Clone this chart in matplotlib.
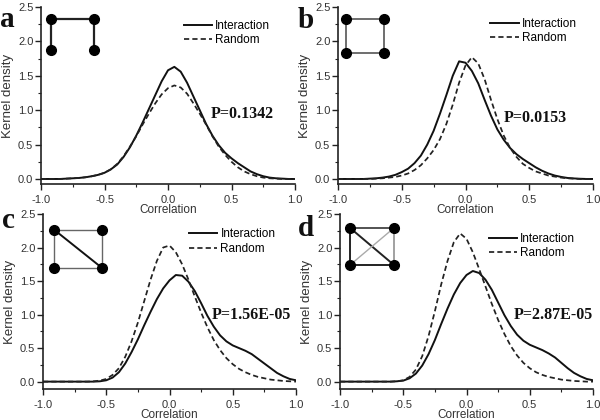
import numpy as np
import matplotlib
matplotlib.use('Agg')
import matplotlib.pyplot as plt
from matplotlib.ticker import MultipleLocator

plt.rcParams['font.family'] = ['Liberation Sans', 'DejaVu Sans']

# correlation grid (step 0.05, -1 .. 1)
corr = np.round(np.arange(-1.0, 1.0001, 0.05), 2)

inter_a = [0, 0, 0, 0, 0.005, 0.01, 0.015, 0.025, 0.04, 0.06, 0.09, 0.14, 0.21, 0.32, 0.46, 0.63, 0.82,
           1.02, 1.22, 1.42, 1.58, 1.63, 1.56, 1.40, 1.20, 1.00, 0.80, 0.63, 0.49, 0.38, 0.30, 0.23,
           0.17, 0.11, 0.07, 0.04, 0.02, 0.01, 0.005, 0, 0]
rand_a = [0, 0, 0, 0, 0.005, 0.01, 0.015, 0.025, 0.04, 0.06, 0.09, 0.14, 0.22, 0.33, 0.47, 0.62, 0.79,
          0.95, 1.10, 1.23, 1.32, 1.36, 1.33, 1.24, 1.10, 0.95, 0.79, 0.62, 0.47, 0.35, 0.25, 0.17,
          0.11, 0.07, 0.04, 0.02, 0.01, 0.005, 0, 0, 0]

inter_b = [0, 0, 0, 0, 0, 0.005, 0.01, 0.02, 0.035, 0.06, 0.10, 0.15, 0.23, 0.34, 0.50, 0.70, 0.95,
           1.22, 1.50, 1.71, 1.69, 1.57, 1.39, 1.15, 0.92, 0.72, 0.57, 0.45, 0.36, 0.29, 0.23, 0.17,
           0.12, 0.08, 0.05, 0.03, 0.015, 0.008, 0.003, 0, 0]
rand_b = [0, 0, 0, 0, 0, 0, 0.005, 0.01, 0.02, 0.03, 0.05, 0.08, 0.13, 0.20, 0.30, 0.42, 0.58,
          0.80, 1.08, 1.40, 1.65, 1.77, 1.68, 1.45, 1.15, 0.87, 0.63, 0.45, 0.32, 0.22, 0.16, 0.11,
          0.08, 0.05, 0.035, 0.02, 0.01, 0.005, 0, 0, 0]

inter_c = [0, 0, 0, 0, 0, 0, 0, 0, 0, 0.005, 0.02, 0.06, 0.14, 0.27, 0.44, 0.63, 0.84,
           1.04, 1.23, 1.39, 1.51, 1.59, 1.58, 1.49, 1.35, 1.17, 0.98, 0.82, 0.69, 0.60, 0.54, 0.50,
           0.46, 0.41, 0.34, 0.27, 0.20, 0.13, 0.08, 0.04, 0.02]
rand_c = [0, 0, 0, 0, 0, 0, 0, 0, 0.005, 0.015, 0.04, 0.10, 0.20, 0.37, 0.60, 0.88, 1.20,
          1.52, 1.80, 2.00, 2.03, 1.93, 1.75, 1.52, 1.27, 1.03, 0.81, 0.62, 0.47, 0.35, 0.26, 0.19,
          0.14, 0.10, 0.07, 0.05, 0.03, 0.02, 0.01, 0.005, 0]

inter_d = [0, 0, 0, 0, 0, 0, 0, 0, 0, 0.005, 0.015, 0.05, 0.12, 0.24, 0.41, 0.62, 0.86,
           1.09, 1.30, 1.47, 1.59, 1.65, 1.62, 1.52, 1.37, 1.18, 0.99, 0.83, 0.70, 0.61, 0.55, 0.51,
           0.47, 0.42, 0.36, 0.28, 0.20, 0.13, 0.08, 0.04, 0.02]
rand_d = [0, 0, 0, 0, 0, 0, 0, 0, 0, 0.005, 0.02, 0.07, 0.18, 0.38, 0.68, 1.05, 1.45,
          1.80, 2.08, 2.21, 2.13, 1.93, 1.68, 1.42, 1.16, 0.92, 0.71, 0.53, 0.39, 0.28, 0.20, 0.14,
          0.10, 0.07, 0.05, 0.03, 0.02, 0.01, 0.005, 0, 0]

letters = ['a', 'b', 'c', 'd']
p_texts = ['P=0.1342', 'P=0.0153', 'P=1.56E-05', 'P=2.87E-05']
p_pos = [(0.34, 0.94), (0.30, 0.88), (0.33, 1.0), (0.37, 1.0)]

# panel layout in pixels of a 600x420 figure: left, bottom(spine), width, top
rects = [(41, 184, 254, 7), (338, 184, 255, 7), (43, 389, 253, 214), (340, 389, 253, 214)]
ylims = [(-0.073, 2.5), (-0.073, 2.5), (-0.11, 2.5), (-0.11, 2.5)]
letter_pos = [(0, 27), (298, 28), (2, 228), (298, 236)]
leg_anchor = [(0.53, 0.975), (0.565, 0.985), (0.545, 0.965), (0.555, 0.94)]

# motif icons: node corners in axes fraction, edges (i, j, colour, width)
icon_box = [(0.039, 0.209, 0.757, 0.932), (0.031, 0.180, 0.740, 0.932),
            (0.045, 0.234, 0.691, 0.909), (0.040, 0.213, 0.709, 0.920)]
icon_edges = [
    [(0, 1, '#222222', 1.6), (0, 2, '#222222', 1.6), (1, 3, '#222222', 1.6)],
    [(0, 1, '#555555', 1.2), (0, 2, '#555555', 1.2), (1, 3, '#555555', 1.2), (2, 3, '#555555', 1.2)],
    [(0, 1, '#666666', 1.0), (0, 2, '#666666', 1.0), (1, 3, '#666666', 1.0), (2, 3, '#666666', 1.0),
     (0, 3, '#111111', 1.4)],
    [(0, 1, '#444444', 1.3), (0, 2, '#222222', 1.4), (1, 3, '#888888', 1.1), (2, 3, '#222222', 1.4),
     (0, 3, '#222222', 1.4), (2, 1, '#aaaaaa', 1.0)],
]

series = [(inter_a, rand_a), (inter_b, rand_b), (inter_c, rand_c), (inter_d, rand_d)]

fig = plt.figure(figsize=(6, 4.2), dpi=100)

for k in range(4):
    l, b, w, t = rects[k]
    ax = fig.add_axes([l / 600, (420 - b) / 420, w / 600, (b - t) / 420])
    inter, rand = series[k]
    ax.plot(corr, inter, color='#111111', lw=1.4, label='Interaction')
    ax.plot(corr, rand, color='#222222', lw=1.25, ls=(0, (3, 1.8)), label='Random')
    ax.set_xlim(-1, 1)
    ax.set_ylim(*ylims[k])
    for s in ['top', 'right']:
        ax.spines[s].set_visible(False)
    for s in ['left', 'bottom']:
        ax.spines[s].set_linewidth(1.2)
        ax.spines[s].set_color('#222222')
    ax.xaxis.set_major_locator(MultipleLocator(0.5))
    ax.xaxis.set_minor_locator(MultipleLocator(0.25))
    ax.yaxis.set_major_locator(MultipleLocator(0.5))
    ax.yaxis.set_minor_locator(MultipleLocator(0.25))
    ax.tick_params(which='major', length=4, width=1, color='#222222', labelsize=8,
                   labelcolor='#333333')
    ax.tick_params(which='minor', length=2.5, width=0.8, color='#222222')
    ax.tick_params(axis='x', which='major', pad=4)
    ax.tick_params(axis='y', which='major', pad=1.5)
    ax.set_xticks([-1.0, -0.5, 0.0, 0.5, 1.0])
    ax.set_xticklabels(['-1.0', '-0.5', '0.0', '0.5', '1.0'])
    ax.set_yticks([0.0, 0.5, 1.0, 1.5, 2.0, 2.5])
    ax.set_yticklabels(['0.0', '0.5', '1.0', '1.5', '2.0', '2.5'])
    ax.set_xlabel('Correlation', fontsize=8.5, color='#333333', labelpad=-0.5)
    ax.set_ylabel('Kernel density', fontsize=9.5, color='#333333', labelpad=3)

    ax.legend(loc='upper left', bbox_to_anchor=leg_anchor[k], frameon=False, fontsize=8.5,
              handlelength=2.4, handletextpad=0.25, labelspacing=0.2, borderpad=0.2)

    px, py = p_pos[k]
    ax.text(px, py, p_texts[k], family='Liberation Serif', fontweight='bold', fontsize=11.5,
            va='center', ha='left', color='#111111')

    lx, ly = letter_pos[k]
    fig.text(lx / 600, 1 - ly / 420, letters[k], family='Liberation Serif', fontweight='bold',
             fontsize=21, ha='left', va='baseline', color='#111111')

    x0, x1, y0, y1 = icon_box[k]
    nodes = [(x0, y1), (x1, y1), (x0, y0), (x1, y0)]
    for i, j, c, lw in icon_edges[k]:
        ax.plot([nodes[i][0], nodes[j][0]], [nodes[i][1], nodes[j][1]], color=c, lw=lw,
                transform=ax.transAxes, clip_on=False, zorder=3)
    ax.plot([n[0] for n in nodes], [n[1] for n in nodes], 'o', color='black', ms=7,
            transform=ax.transAxes, clip_on=False, zorder=4)

fig.savefig('out.png', dpi=100)
